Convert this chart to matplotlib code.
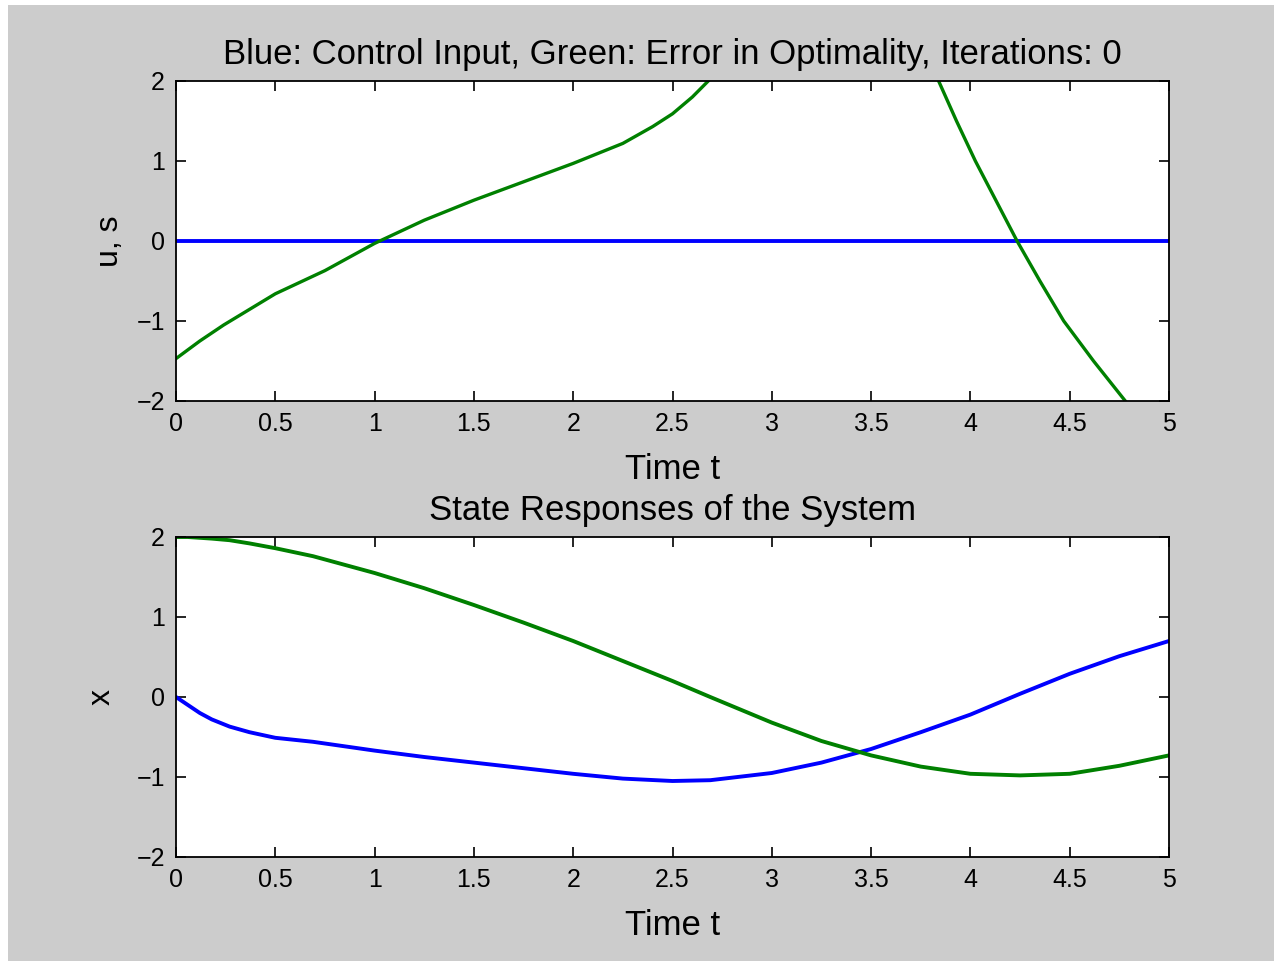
import matplotlib
matplotlib.use("Agg")
import matplotlib.pyplot as plt
import numpy as np

plt.rcParams['font.family'] = ['Liberation Sans', 'DejaVu Sans']

# top panel: control input (blue) and optimality error (green)
t_u = [0.0, 5.0]
u_vals = [0.0, 0.0]
t_err = [0.0, 0.12, 0.24, 0.5, 0.75, 1.0, 1.25, 1.5, 1.75, 2.0, 2.25, 2.4, 2.5, 2.6, 2.68,
         2.85, 3.05, 3.25, 3.45, 3.65, 3.75, 3.84, 3.93, 4.025, 4.13, 4.235, 4.35, 4.47,
         4.62, 4.78, 5.0]
err_vals = [-1.47, -1.25, -1.05, -0.66, -0.37, -0.03, 0.26, 0.51, 0.74, 0.97, 1.22, 1.43, 1.59, 1.8, 2.0,
            2.45, 2.9, 3.2, 3.3, 2.95, 2.5, 2.0, 1.5, 1.0, 0.5, 0.0, -0.5, -1.0,
            -1.5, -2.0, -2.65]

# bottom panel: state responses
t_x = [0.0, 0.06, 0.12, 0.18, 0.27, 0.37, 0.5, 0.69, 1.0, 1.25, 1.5, 1.75, 2.0, 2.25, 2.5, 2.69,
       3.0, 3.25, 3.5, 3.75, 4.0, 4.25, 4.5, 4.75, 5.0]
x1_vals = [0.0, -0.1, -0.2, -0.28, -0.37, -0.44, -0.51, -0.56, -0.67, -0.75, -0.82, -0.89, -0.96, -1.02, -1.05, -1.04,
           -0.95, -0.82, -0.65, -0.44, -0.22, 0.04, 0.29, 0.51, 0.70]
x2_vals = [2.0, 2.0, 1.99, 1.98, 1.96, 1.92, 1.86, 1.76, 1.55, 1.36, 1.15, 0.93, 0.70, 0.45, 0.20, 0.0,
           -0.32, -0.55, -0.73, -0.87, -0.96, -0.98, -0.96, -0.86, -0.73]

xticks = [0, 0.5, 1, 1.5, 2, 2.5, 3, 3.5, 4, 4.5, 5]
xticklabels = ['0', '0.5', '1', '1.5', '2', '2.5', '3', '3.5', '4', '4.5', '5']
yticks = [-2, -1, 0, 1, 2]

fig = plt.figure(figsize=(12.74, 9.61), dpi=100, facecolor='white')
fig.patches.append(plt.Rectangle((8 / 1274, 0), 1 - 8 / 1274, 1 - 5 / 961,
                                 transform=fig.transFigure, facecolor='#cccccc',
                                 edgecolor='none', zorder=-10))

ax1 = fig.add_axes([176 / 1274, 1 - 401 / 961, 993 / 1274, 320 / 961])
ax2 = fig.add_axes([176 / 1274, 1 - 857 / 961, 993 / 1274, 320 / 961])

ax1.plot(t_u, u_vals, color='#0000ff', linewidth=2.8)
ax1.plot(t_err, err_vals, color='#008000', linewidth=2.4)
ax1.set_title('Blue: Control Input, Green: Error in Optimality, Iterations: 0',
              fontsize=25, pad=12)
ax1.set_ylabel('u, s', fontsize=23, labelpad=8)

ax2.plot(t_x, x1_vals, color='#0000ff', linewidth=2.8)
ax2.plot(t_x, x2_vals, color='#008000', linewidth=2.8)
ax2.set_title('State Responses of the System', fontsize=25, pad=12)
ax2.set_ylabel('x', fontsize=23, labelpad=14)

for ax in (ax1, ax2):
    ax.set_xlim(0, 5)
    ax.set_ylim(-2, 2)
    ax.set_xticks(xticks)
    ax.set_xticklabels(xticklabels)
    ax.set_yticks(yticks)
    ax.set_xlabel('Time t', fontsize=25, labelpad=12)
    ax.tick_params(direction='in', length=7, width=1.2, top=True, right=True,
                   labelsize=18, pad=8)
    for s in ax.spines.values():
        s.set_linewidth(1.3)

plt.savefig('out.png', dpi=100, facecolor=fig.get_facecolor())
